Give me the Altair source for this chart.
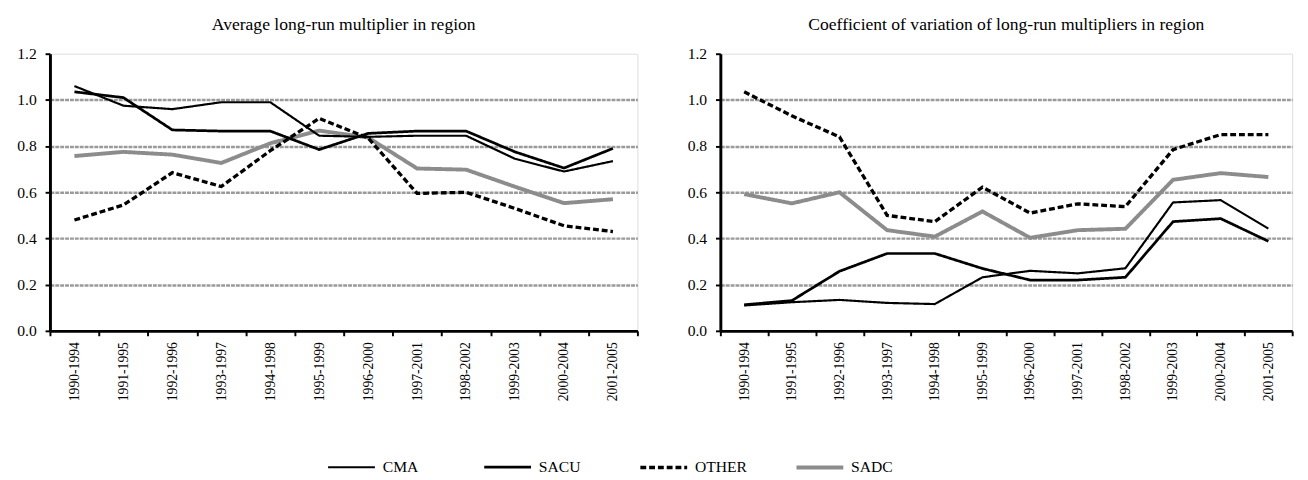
import json
import altair as alt
import pandas as pd

periods = ["1990-1994", "1991-1995", "1992-1996", "1993-1997", "1994-1998", "1995-1999",
           "1996-2000", "1997-2001", "1998-2002", "1999-2003", "2000-2004", "2001-2005"]
series = ["CMA", "SACU", "OTHER", "SADC"]

# Left panel: average long-run multiplier
avg_cma = [1.06, 0.975, 0.96, 0.99, 0.99, 0.845, 0.84, 0.845, 0.845, 0.745, 0.69, 0.735]
avg_sacu = [1.035, 1.01, 0.87, 0.865, 0.865, 0.785, 0.855, 0.865, 0.865, 0.775, 0.705, 0.79]
avg_other = [0.48, 0.545, 0.685, 0.625, 0.78, 0.92, 0.835, 0.595, 0.60, 0.53, 0.455, 0.43]
avg_sadc = [0.757, 0.775, 0.763, 0.727, 0.812, 0.867, 0.837, 0.703, 0.698, 0.624, 0.553, 0.57]

# Right panel: coefficient of variation
cv_cma = [0.11, 0.124, 0.134, 0.121, 0.116, 0.232, 0.26, 0.249, 0.271, 0.556, 0.566, 0.443]
cv_sacu = [0.113, 0.131, 0.258, 0.335, 0.335, 0.27, 0.22, 0.22, 0.232, 0.473, 0.486, 0.388]
cv_other = [1.035, 0.931, 0.84, 0.50, 0.473, 0.622, 0.51, 0.55, 0.538, 0.785, 0.85, 0.85]
cv_sadc = [0.592, 0.552, 0.60, 0.436, 0.408, 0.517, 0.403, 0.436, 0.442, 0.654, 0.683, 0.666]

y_ticks = [0.0, 0.2, 0.4, 0.6, 0.8, 1.0, 1.2]


def make_df(d):
    rows = []
    for s, vals in d.items():
        for i, (p, v) in enumerate(zip(periods, vals)):
            rows.append({"series": s, "idx": i, "period": p, "value": v})
    return pd.DataFrame(rows)


df_avg = make_df({"CMA": avg_cma, "SACU": avg_sacu, "OTHER": avg_other, "SADC": avg_sadc})
df_cv = make_df({"CMA": cv_cma, "SACU": cv_sacu, "OTHER": cv_other, "SADC": cv_sadc})

FONT = "Liberation Serif"
n = len(periods)
x_values = [i * 0.5 - 0.5 for i in range(2 * n + 1)]
label_expr = f"datum.value % 1 === 0 ? {json.dumps(periods)}[datum.value] : ''"

color_scale = alt.Scale(domain=series, range=["#000000", "#000000", "#000000", "#8c8c8c"])
width_scale = alt.Scale(domain=series, range=[2.2, 4, 3.5, 4])
dash_scale = alt.Scale(domain=series, range=[[1, 0], [1, 0], [6, 3], [1, 0]])

legend = alt.Legend(
    title=None, orient="none", legendX=283, legendY=398, direction="horizontal",
    columns=4, symbolType="stroke", symbolSize=2300, labelFont=FONT, labelFontSize=16,
    labelColor="black", labelOffset=6, columnPadding=42, gridAlign="all",
)

x_enc = alt.X(
    "idx:Q",
    scale=alt.Scale(domain=[-0.5, n - 0.5], nice=False, zero=False),
    axis=alt.Axis(
        values=x_values, labelExpr=label_expr, labelAngle=270, grid=False, title=None,
        tickOpacity={"condition": {"test": "datum.value % 1 === 0", "value": 0}, "value": 1},
        domainColor="black", domainWidth=3, tickColor="black", tickWidth=2, tickSize=5,
        labelFont=FONT, labelFontSize=14, labelColor="black", labelPadding=6,
        labelOverlap=False, labelFlush=False,
    ),
)

y_enc = alt.Y(
    "value:Q",
    scale=alt.Scale(domain=[0, 1.2], nice=False),
    axis=alt.Axis(
        values=y_ticks, format=".1f", title=None,
        gridColor="#9a9a9a", gridWidth=2.5, gridDash=[4, 1],
        gridOpacity={"condition": {"test": "datum.value > 0.01 && datum.value < 1.19", "value": 1}, "value": 0},
        domainColor="black", domainWidth=3, tickColor="black", tickWidth=2, tickSize=5,
        labelFont=FONT, labelFontSize=16, labelColor="black", labelPadding=9,
    ),
)


def panel(df, title, w):
    base = alt.Chart(df).mark_line(strokeCap="butt").encode(
        x=x_enc,
        y=y_enc,
        color=alt.Color("series:N", scale=color_scale, legend=legend, sort=series),
        strokeWidth=alt.StrokeWidth("series:N", scale=width_scale, legend=legend, sort=series),
        strokeDash=alt.StrokeDash("series:N", scale=dash_scale, legend=legend, sort=series),
    )
    layers = [base.transform_filter(alt.datum.series == s) for s in ["SADC", "OTHER", "SACU", "CMA"]]
    return alt.layer(*layers).properties(
        width=w, height=284,
        title=alt.Title(title, font=FONT, fontSize=18, fontWeight="normal", color="black",
                        anchor="middle", offset=12),
    )


left = panel(df_avg, "Average long-run multiplier in region", 602)
right = panel(df_cv, "Coefficient of variation of long-run multipliers in region", 586)

chart = alt.hconcat(left, right, spacing=42).properties(
    padding={"left": 8, "top": 2, "right": 0, "bottom": 0}
).configure_view(stroke="black", strokeWidth=3).configure(background="white")

chart.save("out.html", embed_options={"renderer": "svg", "actions": False})
